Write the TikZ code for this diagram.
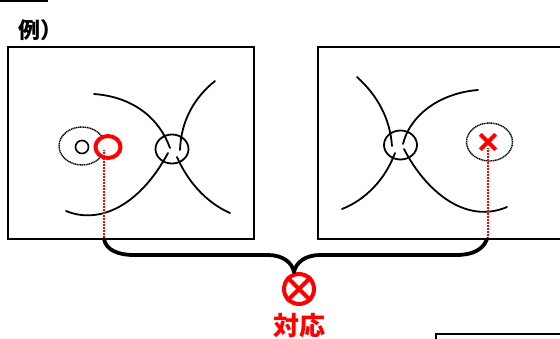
\documentclass[tikz,border=0pt]{standalone}
\usepackage{fontspec}
\setmainfont{Noto Sans CJK JP}
\usetikzlibrary{shapes.geometric}

\begin{document}
\begin{tikzpicture}[
    x=1pt,
    y=-1pt,
    font=\bfseries,
    panel/.style={draw=black, line width=2pt},
    strand/.style={draw=black, line width=1.8pt, line cap=round},
    crossing/.style={ellipse, draw=black, line width=1.8pt, inner sep=0pt, minimum width=33pt, minimum height=29pt},
    region/.style={ellipse, draw=black, line width=1.4pt, dash pattern=on 1.2pt off 0.6pt, inner sep=0pt, minimum width=46pt, minimum height=38pt},
    link/.style={draw=red, line width=1.2pt, dash pattern=on 1.2pt off 0.3pt},
    brace/.style={draw=black, line width=3.8pt, line cap=round},
    redmark/.style={draw=red, line width=4pt}
  ]
  \useasboundingbox (0,0) rectangle (560,338);

  % frames
  \draw[panel] (0,0.5) -- (48,0.5);
  \draw[panel] (8,47) rectangle (254,239);
  \draw[panel] (318,47) rectangle (575,239);
  \draw[panel] (436,333.5) rectangle (575,350);

  \node[anchor=west, inner sep=0pt, font=\fontsize{22}{26}\selectfont\bfseries] (rei) at (18,30) {例）};

  % left panel
  \node[region] (regionL) at (82,146) {};
  \node[circle, draw=black, line width=1.6pt, inner sep=0pt, minimum size=13pt] (holeL) at (82,147) {};
  \node[crossing] (crossL) at (172,149) {};
  \node[ellipse, fill=white, redmark, inner sep=0pt, minimum width=25pt, minimum height=22pt] (spot) at (108,147) {};
  \draw[strand] (94,94) .. controls (135,97) and (160,120) .. (170,148);
  \draw[strand] (215,81) .. controls (195,97) and (181,120) .. (180,150);
  \draw[strand] (66,211) .. controls (100,225) and (140,205) .. (168,153);
  \draw[strand] (177,157) .. controls (187,180) and (205,202) .. (230,213);

  % right panel
  \node[region] (regionR) at (489.5,142) {};
  \node[crossing] (crossR) at (400.5,145) {};
  \node[inner sep=0pt, minimum size=15pt] (cross) at (488,142) {};
  \draw[redmark] (cross.north west) -- (cross.south east);
  \draw[redmark] (cross.north east) -- (cross.south west);
  \draw[strand] (357,77) .. controls (377,95) and (390,118) .. (392,146);
  \draw[strand] (478,90) .. controls (440,93) and (410,115) .. (403,144);
  \draw[strand] (342,209) .. controls (365,200) and (385,180) .. (395,153);
  \draw[strand] (404,149) .. controls (425,190) and (465,225) .. (507,207);

  % correspondence
  \coordinate (footL) at (104,239);
  \coordinate (footR) at (487,239);
  \coordinate (apex) at (294,272);
  \node[circle, redmark, inner sep=0pt, minimum size=30pt] (otimes) at (299,289) {};
  \draw[redmark] (otimes.north west) -- (otimes.south east);
  \draw[redmark] (otimes.north east) -- (otimes.south west);
  \node[text=red, inner sep=0pt, font=\fontsize{26}{30}\selectfont\bfseries] (taiou) at (299,326) {対応};

  \draw[link] (104,150) -- (footL);
  \draw[link] (488,148) -- (488,237);
  \draw[brace] (footL) .. controls (106,250) and (118,255) .. (134,255) -- (268,255) .. controls (282,255) and (292,262) .. (apex);
  \draw[brace] (footR) .. controls (483,250) and (472,255) .. (456,255) -- (320,255) .. controls (306,255) and (296,262) .. (apex);
\end{tikzpicture}
\end{document}
